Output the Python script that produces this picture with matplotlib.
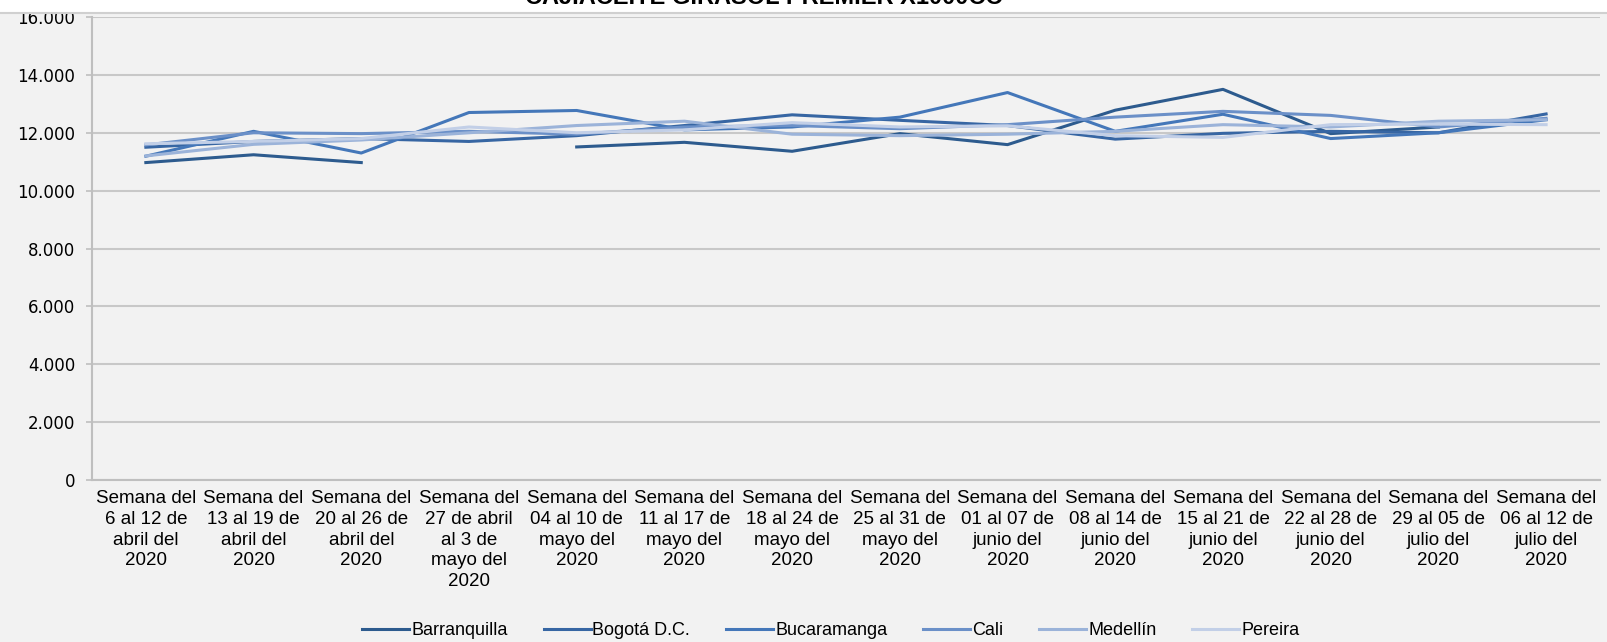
import numpy as np
import matplotlib.pyplot as plt
from matplotlib.ticker import FuncFormatter

semanas = [
    "Semana del\n6 al 12 de\nabril del\n2020",
    "Semana del\n13 al 19 de\nabril del\n2020",
    "Semana del\n20 al 26 de\nabril del\n2020",
    "Semana del\n27 de abril\nal 3 de\nmayo del\n2020",
    "Semana del\n04 al 10 de\nmayo del\n2020",
    "Semana del\n11 al 17 de\nmayo del\n2020",
    "Semana del\n18 al 24 de\nmayo del\n2020",
    "Semana del\n25 al 31 de\nmayo del\n2020",
    "Semana del\n01 al 07 de\njunio del\n2020",
    "Semana del\n08 al 14 de\njunio del\n2020",
    "Semana del\n15 al 21 de\njunio del\n2020",
    "Semana del\n22 al 28 de\njunio del\n2020",
    "Semana del\n29 al 05 de\njulio del\n2020",
    "Semana del\n06 al 12 de\njulio del\n2020",
]

nan = np.nan
barranquilla = [10970, 11240, 10970, nan, 11510, 11670, 11360, 11970, 11590, 12780, 13500, 11970, 12200, nan]
bogota = [11500, 11700, 11800, 11700, 11900, 12250, 12620, 12430, 12250, 11780, 11980, 12050, 12000, 12650]
bucaramanga = [11190, 12050, 11300, 12700, 12770, 12100, 12200, 12540, 13390, 12050, 12640, 11800, 12000, 12450]
cali = [11580, 12000, 11970, 12050, 11950, 12200, 12250, 12140, 12280, 12540, 12740, 12600, 12200, 12500]
medellin = [11200, 11600, 11750, 12000, 12250, 12400, 11950, 11900, 11950, 12050, 12280, 12200, 12400, 12450]
pereira = [11620, 11700, 11800, 12200, 12000, 12100, 12350, 12200, 12240, 11900, 11840, 12280, 12300, 12280]

ciudades = ["Barranquilla", "Bogotá D.C.", "Bucaramanga", "Cali", "Medellín", "Pereira"]
series = [barranquilla, bogota, bucaramanga, cali, medellin, pereira]
colores = ["#2D5B8E", "#3766A3", "#4477B9", "#6B90C8", "#9BB3D9", "#C2CFE7"]

fig = plt.figure(figsize=(16.08, 6.42), dpi=100, facecolor="#F2F2F2")
ax = fig.add_axes([0.0572, 0.2523, 0.9378, 0.7212])
ax.set_facecolor("#F2F2F2")

# franja blanca superior con el titulo cortado
fig.patches.append(plt.Rectangle((0, 1 - 12 / 642), 1, 12 / 642, transform=fig.transFigure,
                                 facecolor="white", edgecolor="none", zorder=0))
fig.lines.append(plt.Line2D([0, 1], [1 - 13 / 642] * 2, transform=fig.transFigure,
                            color="#D0D0D0", lw=1.5))
fig.text(0.475, 1 - 4 / 642, "CAJ.ACEITE GIRASOL PREMIER X1000CC", ha="center",
         va="baseline", fontsize=17, fontweight="bold", family="Liberation Sans")

x = np.arange(len(semanas))
for nombre, valores, color in zip(ciudades, series, colores):
    ax.plot(x, valores, color=color, lw=2.2, label=nombre)

ax.set_xlim(-0.5, len(semanas) - 0.5)
ax.set_ylim(0, 16000)
ax.set_yticks(np.arange(0, 16001, 2000))
ax.yaxis.set_major_formatter(FuncFormatter(lambda v, p: f"{int(v):,}".replace(",", ".")))
ax.grid(axis="y", color="#C8C8C8", lw=1.5)
ax.set_axisbelow(True)
for s in ["top", "right"]:
    ax.spines[s].set_visible(False)
ax.spines["left"].set_color("#BFBFBF")
ax.spines["left"].set_linewidth(1.5)
ax.spines["bottom"].set_color("#BFBFBF")
ax.spines["bottom"].set_linewidth(1.5)
ax.tick_params(axis="y", labelsize=12, color="#BFBFBF", length=4, width=1.2, pad=8)
ax.tick_params(axis="x", length=0, pad=7)
ax.set_xticks(x)
ax.set_xticklabels(semanas, fontsize=13.5, family="Liberation Sans", linespacing=1.3)

ax.legend(loc="center", bbox_to_anchor=(0.49, -0.325), ncol=6, frameon=False,
          prop={"family": "Liberation Sans", "size": 13},
          handlelength=2.6, columnspacing=2.0, handletextpad=0.1)

fig.savefig("out.png", dpi=100, facecolor=fig.get_facecolor())
